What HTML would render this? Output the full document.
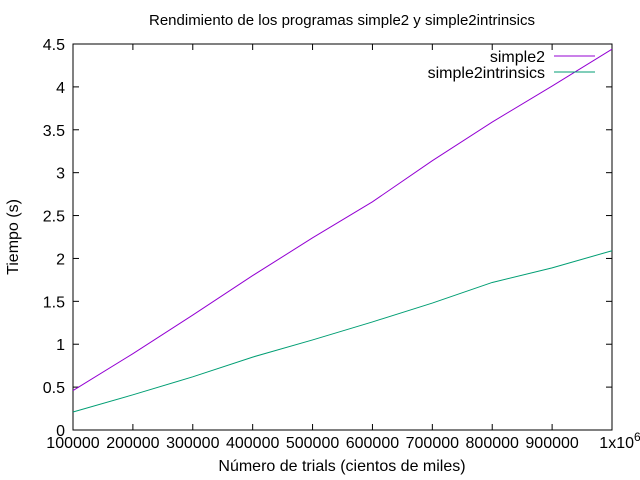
<!DOCTYPE html>
<html><head><meta charset="utf-8"><style>
body{margin:0;background:#fff}
svg{display:block;font-family:"Liberation Sans",sans-serif;font-size:16px}
</style></head><body>
<svg id="c" width="640" height="480">
<text x="342" y="25" text-anchor="middle" font-size="15">Rendimiento de los programas simple2 y simple2intrinsics</text>
<text x="342" y="471" text-anchor="middle">Número de trials (cientos de miles)</text>
<text transform="translate(18,237) rotate(-90)" text-anchor="middle">Tiempo (s)</text>
<g id="axes"></g>
<rect x="73" y="44" width="539" height="386" fill="none" stroke="#000"/>
<g id="series"></g>
<g>
<text x="545" y="62" text-anchor="end">simple2</text>
<line x1="554" y1="56" x2="595" y2="56" stroke="#9400d3"/>
<text x="545" y="78" text-anchor="end">simple2intrinsics</text>
<line x1="554" y1="72" x2="595" y2="72" stroke="#009e73"/>
</g>
</svg>
<script>
const xValues=[100000,200000,300000,400000,500000,600000,700000,800000,900000,1000000];
const simple2=[0.46,0.89,1.34,1.80,2.24,2.66,3.14,3.59,4.01,4.44];
const simple2intrinsics=[0.21,0.41,0.62,0.85,1.05,1.26,1.48,1.72,1.89,2.09];
const yTicks=[0,0.5,1,1.5,2,2.5,3,3.5,4,4.5];
const xTicks=[100000,200000,300000,400000,500000,600000,700000,800000,900000];
const NS="http://www.w3.org/2000/svg";
const X=v=>73+(v-100000)/900000*539;
const Y=v=>430-v/4.5*386;
const ax=document.getElementById('axes');
function mk(t,a,p){const e=document.createElementNS(NS,t);for(const k in a)e.setAttribute(k,a[k]);p.appendChild(e);return e;}
yTicks.forEach(v=>{
 const l=mk('line',{x1:73,x2:79,y1:Y(v),y2:Y(v),stroke:'#000'},ax);
 
 
 const l2=mk('line',{x1:606,x2:612,y1:Y(v),y2:Y(v),stroke:'#000'},ax);
 
 
 const t=mk('text',{x:65,y:Y(v)+6,'text-anchor':'end'},ax);t.textContent=String(v);
 
 
});
xTicks.concat([1000000]).forEach(v=>{
 const l=mk('line',{x1:X(v),x2:X(v),y1:430,y2:424,stroke:'#000'},ax);
 
 
 const l2=mk('line',{x1:X(v),x2:X(v),y1:44,y2:50,stroke:'#000'},ax);
 
 
});
xTicks.forEach(v=>{
 const t=mk('text',{x:X(v),y:448,'text-anchor':'middle'},ax);t.textContent=String(v);
 
 
});
const lt=mk('text',{x:X(1000000)+8,y:448,'text-anchor':'middle'},ax);
lt.innerHTML='1x10<tspan dy="-7" font-size="12">6</tspan>';


const sg=document.getElementById('series');
[[simple2,'#9400d3','line-simple2'],[simple2intrinsics,'#009e73','line-simple2intrinsics']].forEach(([d,c,n])=>{
 const p=mk('polyline',{points:d.map((v,i)=>X(xValues[i])+','+Y(v)).join(' '),fill:'none',stroke:c},sg);
 
 
});
</script>
</body></html>
